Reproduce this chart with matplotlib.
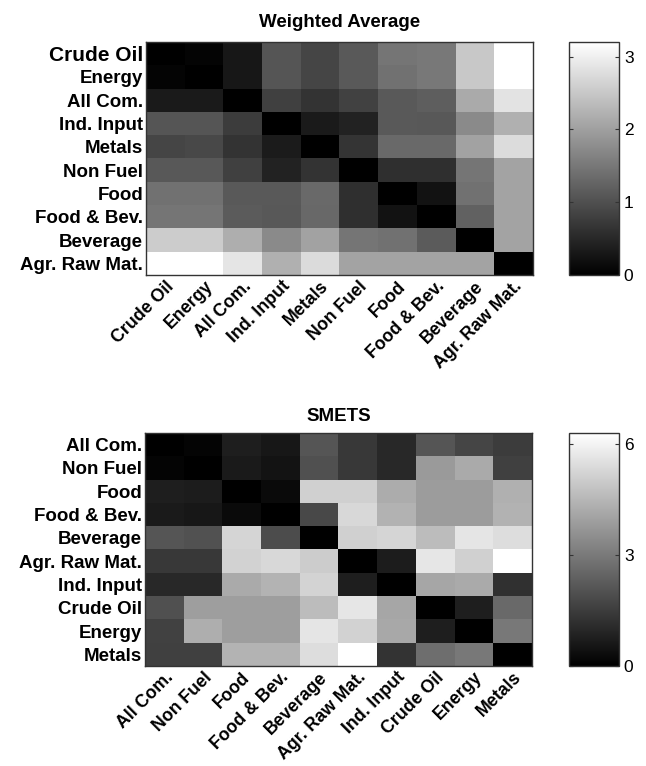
"""Distance matrices between commodity indices: weighted average vs SMETS."""

import matplotlib
matplotlib.use("Agg")
import matplotlib.pyplot as plt
import numpy as np

plt.rcParams["font.family"] = ["Liberation Sans", "DejaVu Sans"]

WA_LABELS = ["Crude Oil", "Energy", "All Com.", "Ind. Input", "Metals",
             "Non Fuel", "Food", "Food & Bev.", "Beverage", "Agr. Raw Mat."]
WA_VALUES = [
    [0.00, 0.06, 0.30, 1.07, 0.87, 1.13, 1.47, 1.51, 2.51, 3.20],
    [0.06, 0.00, 0.30, 1.07, 0.87, 1.13, 1.43, 1.51, 2.51, 3.20],
    [0.33, 0.33, 0.00, 0.80, 0.64, 0.83, 1.13, 1.18, 2.13, 2.84],
    [1.07, 1.07, 0.75, 0.00, 0.33, 0.43, 1.13, 1.10, 1.73, 2.21],
    [0.87, 0.90, 0.64, 0.35, 0.00, 0.67, 1.33, 1.33, 2.03, 2.76],
    [1.10, 1.10, 0.80, 0.43, 0.64, 0.00, 0.60, 0.60, 1.47, 2.06],
    [1.43, 1.43, 1.13, 1.13, 1.33, 0.60, 0.00, 0.23, 1.43, 2.06],
    [1.47, 1.47, 1.15, 1.10, 1.31, 0.60, 0.23, 0.00, 1.23, 2.06],
    [2.56, 2.56, 2.18, 1.73, 2.03, 1.47, 1.43, 1.15, 0.00, 2.06],
    [3.20, 3.20, 2.87, 2.21, 2.74, 2.06, 2.06, 2.06, 2.06, 0.00],
]
WA_VMAX = 3.2
WA_TICKS = [0, 1, 2, 3]

SMETS_LABELS = ["All Com.", "Non Fuel", "Food", "Food & Bev.", "Beverage",
                "Agr. Raw Mat.", "Ind. Input", "Crude Oil", "Energy", "Metals"]
SMETS_VALUES = [
    [0.00, 0.10, 0.74, 0.59, 2.10, 1.38, 0.99, 2.10, 1.70, 1.48],
    [0.10, 0.00, 0.64, 0.49, 1.98, 1.38, 0.99, 3.80, 4.20, 1.58],
    [0.74, 0.69, 0.00, 0.25, 5.14, 5.14, 4.25, 3.85, 3.85, 4.35],
    [0.64, 0.59, 0.25, 0.00, 1.78, 5.34, 4.40, 3.85, 3.85, 4.40],
    [2.10, 2.03, 5.26, 1.88, 0.00, 5.14, 5.26, 4.64, 5.66, 5.44],
    [1.38, 1.38, 5.19, 5.34, 5.04, 0.00, 0.69, 5.68, 5.14, 6.30],
    [0.99, 0.99, 4.20, 4.45, 5.24, 0.74, 0.00, 4.10, 4.20, 1.19],
    [1.98, 3.90, 3.90, 3.90, 4.64, 5.68, 4.10, 0.00, 0.74, 2.62],
    [1.63, 4.30, 3.90, 3.90, 5.66, 5.19, 4.15, 0.74, 0.00, 2.96],
    [1.58, 1.58, 4.45, 4.45, 5.44, 6.30, 1.26, 2.72, 2.96, 0.00],
]
SMETS_VMAX = 6.3
SMETS_TICKS = [0, 3, 6]

W, H = 646, 766


def box(x0, y0, x1, y1):
    """Pixel box (top-left origin) -> figure fraction rect."""
    return [x0 / W, 1 - y1 / H, (x1 - x0) / W, (y1 - y0) / H]


def draw_panel(fig, rect, cbar_rect, values, labels, vmax, ticks, title, title_pad):
    ax = fig.add_axes(rect)
    cax = fig.add_axes(cbar_rect)
    im = ax.imshow(np.array(values), cmap="gray", vmin=0, vmax=vmax,
                   aspect="auto", interpolation="nearest")

    n = len(labels)
    ax.set_xticks(range(n))
    ax.set_yticks(range(n))
    ax.set_xticklabels(labels, rotation=45, ha="right", va="top",
                       rotation_mode="anchor", fontsize=12.8, fontweight="bold")
    ax.set_yticklabels(labels, fontsize=13.5, fontweight="bold")
    ax.tick_params(length=0, pad=2)
    for s in ax.spines.values():
        s.set_color("#333333")
        s.set_linewidth(1.0)
    ax.set_title(title, fontsize=13.5, fontweight="bold", pad=title_pad)

    cb = fig.colorbar(im, cax=cax, ticks=ticks)
    cb.ax.tick_params(direction="in", length=3, labelsize=12.5,
                      left=True, right=True, color="#333333")
    cb.outline.set_edgecolor("#333333")
    cb.outline.set_linewidth(1.0)
    return ax


def main():
    fig = plt.figure(figsize=(W / 100, H / 100), dpi=100)

    ax1 = draw_panel(fig, box(146, 42, 533, 275), box(569, 42, 619, 275),
                     WA_VALUES, WA_LABELS, WA_VMAX, WA_TICKS,
                     "Weighted Average", 11)
    # the reference shows "Crude Oil" a bit bigger on the top panel
    ax1.get_yticklabels()[0].set_fontsize(15)

    draw_panel(fig, box(145, 433, 532, 666), box(569, 433, 619, 666),
               SMETS_VALUES, SMETS_LABELS, SMETS_VMAX, SMETS_TICKS, "SMETS", 8.5)

    fig.savefig("out.png", dpi=100)


if __name__ == "__main__":
    main()
